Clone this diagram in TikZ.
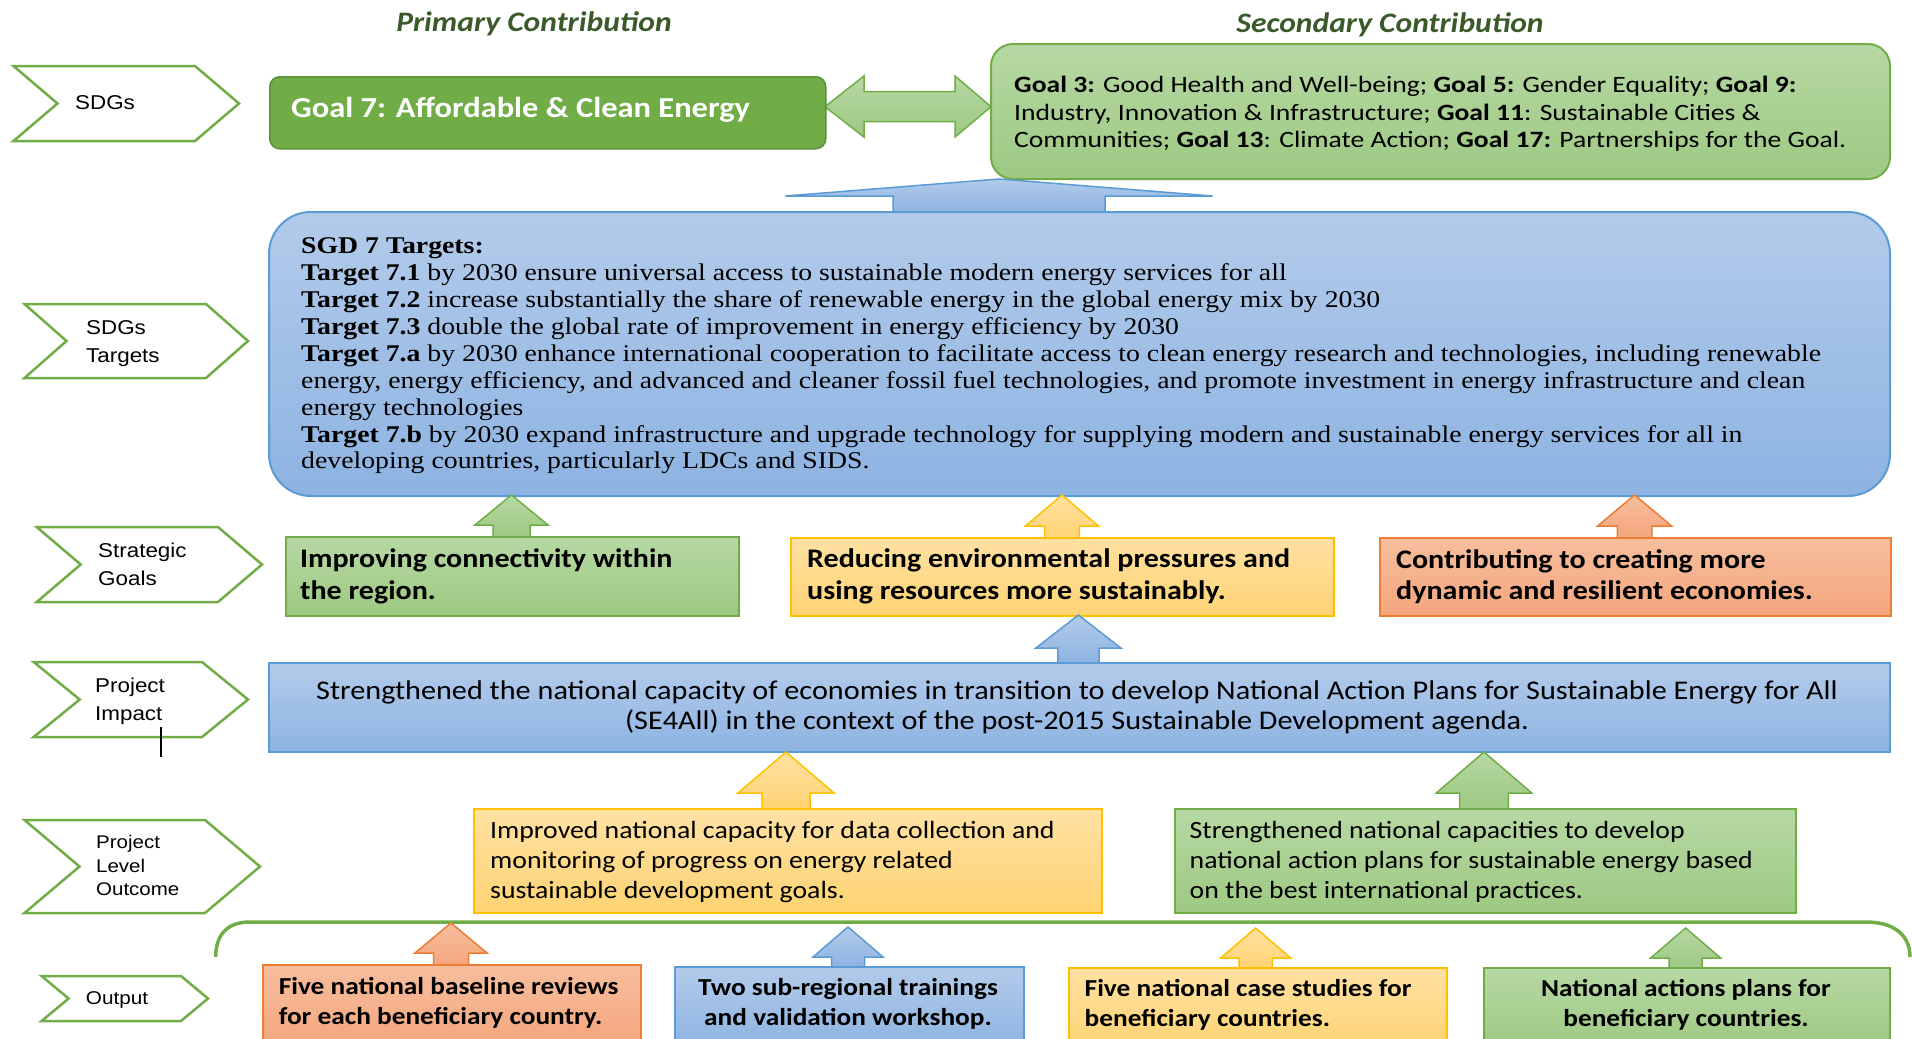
\documentclass[tikz,border=0pt]{standalone}
\usepackage{fontspec}
\setmainfont{Liberation Serif}[FakeStretch=1.157]
\newfontfamily\calfont{Carlito}[FakeStretch=1.12]
\newfontfamily\calwide{Carlito}[FakeStretch=1.18]
\newfontfamily\arifont{Liberation Sans}[FakeStretch=1.12]
\definecolor{gline}{HTML}{70AD47}
\definecolor{gdark}{HTML}{5A9138}
\definecolor{gfill}{HTML}{70AD47}
\definecolor{gtop}{HTML}{B7D8A3}
\definecolor{gbot}{HTML}{9DC983}
\definecolor{ytop}{HTML}{FFE1A3}
\definecolor{ybot}{HTML}{FED372}
\definecolor{yline}{HTML}{FFC000}
\definecolor{otop}{HTML}{F7BE9E}
\definecolor{obot}{HTML}{F4A67D}
\definecolor{oline}{HTML}{ED7D31}
\definecolor{btop}{HTML}{B3CBEA}
\definecolor{bbot}{HTML}{8DB3E2}
\definecolor{bline}{HTML}{5B9BD5}
\definecolor{headc}{HTML}{3B5A2A}
\newcommand{\blockup}[7]{%
  \draw[#1] (#2,#3) -- ({#2+#6},#4) -- ({#2+#7},#4) -- ({#2+#7},#5) -- ({#2-#7},#5) -- ({#2-#7},#4) -- ({#2-#6},#4) -- cycle;}
\newcommand{\chevron}[5]{%
  \draw[chevst] (#1,#2) -- ({#3-#5},#2) -- (#3,{(#2+#4)/2}) -- ({#3-#5},#4) -- (#1,#4) -- ({#1+#5},{(#2+#4)/2}) -- cycle;}
\tikzset{
  chevst/.style={draw=gline, line width=2.5, fill=white, line join=miter},
  chevtext/.style={font=\arifont\fontsize{20}{28}\selectfont, align=left, inner sep=0, anchor=west},
  gbox/.style={draw=gline, line width=2, top color=gtop, bottom color=gbot},
  ybox/.style={draw=yline, line width=2, top color=ytop, bottom color=ybot},
  obox/.style={draw=oline, line width=2, top color=otop, bottom color=obot},
  bbox/.style={draw=bline, line width=2, top color=btop, bottom color=bbot},
  boxshape/.style={rectangle, inner sep=0, anchor=north west},
  headtext/.style={font=\calfont\bfseries\itshape\fontsize{28.2}{32}\selectfont, text=headc, inner sep=0},
  strtext/.style={font=\calfont\bfseries\fontsize{26.8}{31.5}\selectfont, align=left, inner sep=0, anchor=west},
  outtext/.style={font=\calfont\fontsize{24.8}{30}\selectfont, align=left, inner sep=0, anchor=west},
  optext/.style={font=\calfont\bfseries\fontsize{24.4}{30}\selectfont, inner sep=0},
}
\begin{document}
\begin{tikzpicture}[x=1pt, y=-1pt]
\clip (0,0) rectangle (1912,1039);
\fill[white] (0,0) rectangle (1912,1039);

% headings
\node[headtext] (hprim) at (534,23.5) {Primary Contribution};
\node[headtext] (hsec) at (1390,24.5) {Secondary Contribution};

% chevrons
\chevron{13.5}{66}{239}{141}{44}
\node[chevtext] (lsdg) at (75,103) {SDGs};
\chevron{24.5}{304}{248}{378}{42}
\node[chevtext] (ltar) at (86,343.5) {SDGs\\Targets};
\chevron{36.7}{527}{262}{602}{44}
\node[chevtext] (lstr) at (98,564) {Strategic\\Goals};
\chevron{33.7}{662}{248}{737}{46}
\node[chevtext] (limp) at (95,701) {Project\\Impact};
\chevron{24.5}{820}{260}{913}{55}
\node[chevtext, font=\arifont\fontsize{18.3}{23.5}\selectfont] (lout) at (96,865.5) {Project\\Level\\Outcome};
\chevron{41.6}{976}{208}{1021}{27}
\node[chevtext, font=\arifont\fontsize{18.5}{23}\selectfont] (lopt) at (85.7,1000) {Output};
\draw[black, line width=1.5] (161,727) -- (161,757);

% row 1
\draw[gbox, line width=1.5, line join=miter] (825,106.7) -- (864,76) -- (864,91.7) -- (955,91.7) -- (955,76) -- (991,106.7) -- (955,137) -- (955,121.7) -- (864,121.7) -- (864,137) -- cycle;
\node[boxshape, fill=gfill, draw=gdark, line width=1.5, rounded corners=10, minimum width=556, minimum height=72] (goal7) at (269,76) {};
\node[font=\calfont\bfseries\fontsize{29}{34}\selectfont, text=white, inner sep=0, anchor=west] (goal7t) at (291,109.5) {Goal 7: Affordable \& Clean Energy};
\node[boxshape, gbox, rounded corners=22, minimum width=899, minimum height=135] (sec) at (990,43) {};
\node[font=\calwide\fontsize{23.4}{27.5}\selectfont, align=left, inner sep=0, anchor=west] (sect) at (1014,114) {\textbf{Goal 3:} Good Health and Well-being; \textbf{Goal 5:} Gender Equality; \textbf{Goal 9:}\\Industry, Innovation \& Infrastructure; \textbf{Goal 11}: Sustainable Cities \&\\Communities; \textbf{Goal 13}: Climate Action; \textbf{Goal 17:} Partnerships for the Goal.};

% targets
\blockup{bbox, line width=1.5}{999}{179}{196}{212}{213.5}{106}
\node[boxshape, bbox, rounded corners=42, minimum width=1621, minimum height=284] (tar) at (268,211) {};
\node[font=\fontsize{24}{26.9}\selectfont, align=left, inner sep=0, anchor=west] (tart) at (301,356) {\textbf{SGD 7 Targets:}\\
\textbf{Target 7.1} by 2030 ensure universal access to sustainable modern energy services for all\\
\textbf{Target 7.2} increase substantially the share of renewable energy in the global energy mix by 2030\\
\textbf{Target 7.3} double the global rate of improvement in energy efficiency by 2030\\
\textbf{Target 7.a} by 2030 enhance international cooperation to facilitate access to clean energy research and technologies, including renewable\\
energy, energy efficiency, and advanced and cleaner fossil fuel technologies, and promote investment in energy infrastructure and clean\\
energy technologies\\
\textbf{Target 7.b} by 2030 expand infrastructure and upgrade technology for supplying modern and sustainable energy services for all in\\
developing countries, particularly LDCs and SIDS.};

% strategic goals
\blockup{gbox, line width=1.5}{511.5}{495}{525}{537}{36.5}{18.5}
\blockup{ybox, line width=1.5}{1062}{495}{526}{538}{36.5}{17.3}
\blockup{obox, line width=1.5}{1634.6}{495}{526}{538}{37}{17.3}
\node[boxshape, gbox, minimum width=453, minimum height=79] (sg1) at (285,536) {};
\node[strtext] (sg1t) at (300,576.5) {Improving connectivity within\\the region.};
\node[boxshape, ybox, minimum width=543, minimum height=78] (sg2) at (790,537) {};
\node[strtext] (sg2t) at (807,576.5) {Reducing environmental pressures and\\using resources more sustainably.};
\node[boxshape, obox, minimum width=511, minimum height=78] (sg3) at (1379,537) {};
\node[strtext] (sg3t) at (1396,576.5) {Contributing to creating more\\dynamic and resilient economies.};

% impact
\blockup{bbox, line width=1.5}{1078.4}{615}{648}{663}{42.5}{20.6}
\node[boxshape, bbox, minimum width=1621, minimum height=89] (imp) at (268,662) {};
\node[font=\calfont\fontsize{27}{30.5}\selectfont, align=center, inner sep=0] (impt) at (1077,707.5) {Strengthened the national capacity of economies in transition to develop National Action Plans for Sustainable Energy for All\\(SE4All) in the context of the post-2015 Sustainable Development agenda.};

% outcomes
\blockup{ybox, line width=1.5}{786}{752}{793}{809}{48}{24}
\blockup{gbox, line width=1.5}{1484}{752}{793}{809}{47.7}{24.3}
\node[boxshape, ybox, minimum width=628, minimum height=104] (oc1) at (473,808) {};
\node[outtext] (oc1t) at (490,862) {Improved national capacity for data collection and\\monitoring of progress on energy related\\sustainable development goals.};
\node[boxshape, gbox, minimum width=621, minimum height=104] (oc2) at (1174,808) {};
\node[outtext] (oc2t) at (1189.5,862) {Strengthened national capacities to develop\\national action plans for sustainable energy based\\on the best international practices.};

% bracket
\draw[gline, line width=3.5] (215.7,957) .. controls (215.7,936) and (226,922) .. (250,922) -- (1866,922) .. controls (1895,922) and (1910,936) .. (1910,957);

% outputs
\blockup{obox, line width=1.5}{451}{923}{953}{965}{36}{17.5}
\blockup{bbox, line width=1.5}{848}{927}{957}{967}{35}{16.5}
\blockup{ybox, line width=1.5}{1255.7}{928}{958}{968}{35}{16.7}
\blockup{gbox, line width=1.5}{1685.6}{928}{958}{968}{35}{16.5}
\node[boxshape, obox, minimum width=378, minimum height=80] (op1) at (262,964) {};
\node[optext, align=left, anchor=west] (op1t) at (278.6,1003) {Five national baseline reviews\\for each beneficiary country.};
\node[boxshape, bbox, minimum width=349, minimum height=80] (op2) at (673.6,966) {};
\node[optext, align=center] (op2t) at (848,1004) {Two sub-regional trainings\\and validation workshop.};
\node[boxshape, ybox, minimum width=378, minimum height=80] (op3) at (1068,967) {};
\node[optext, align=left, anchor=west] (op3t) at (1084.5,1005) {Five national case studies for\\beneficiary countries.};
\node[boxshape, gbox, minimum width=406, minimum height=80] (op4) at (1483.4,967) {};
\node[optext, align=center] (op4t) at (1686,1005) {National actions plans for\\beneficiary countries.};
\end{tikzpicture}
\end{document}
